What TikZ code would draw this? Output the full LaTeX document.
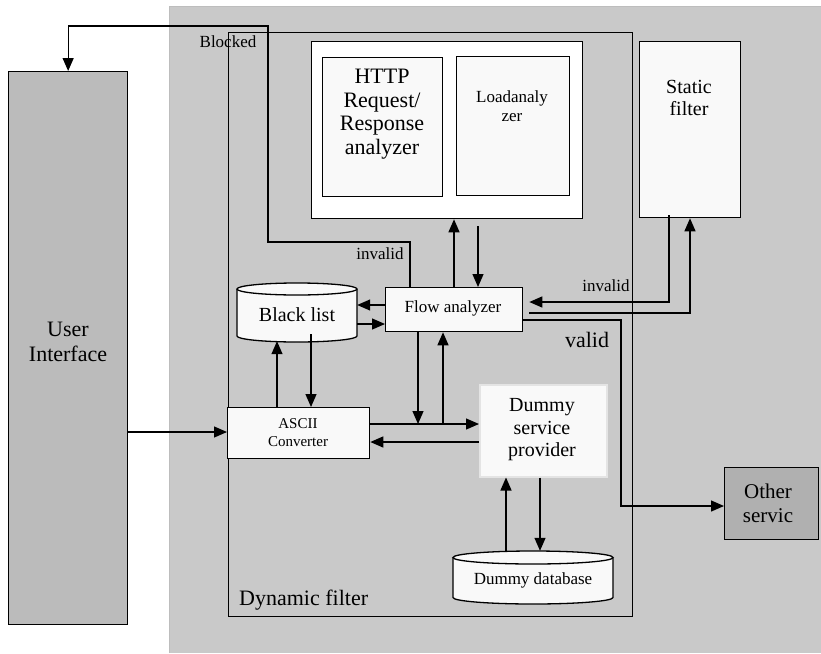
\documentclass[tikz,border=0pt]{standalone}
\usepackage{fontspec}
\setmainfont{Liberation Serif}
\usetikzlibrary{arrows.meta,calc}
\definecolor{bggray}{HTML}{C9C9C9}
\definecolor{bgedge}{HTML}{BDBDBD}
\definecolor{uifill}{HTML}{BBBBBB}
\definecolor{osfill}{HTML}{B0B0B0}
\definecolor{boxfill}{HTML}{F9F9F9}
\definecolor{dspline}{HTML}{E4E4E4}
\tikzset{
  ln/.style={line width=1.3pt},
  arr/.style={line width=1.3pt,-{Triangle[length=13pt,width=11pt]}},
  boxn/.style={draw,line width=1.3pt,fill=boxfill,inner sep=0pt,anchor=north west},
  area/.style={inner sep=0pt,anchor=north west},
  huge/.style={font=\fontsize{22}{24.5}\selectfont,align=center,inner sep=0pt},
  big/.style={font=\fontsize{20}{22.5}\selectfont,align=center,inner sep=0pt},
  mid/.style={font=\fontsize{17}{19.5}\selectfont,align=center,inner sep=0pt},
  sml/.style={font=\fontsize{15}{18}\selectfont,align=center,inner sep=0pt},
}
\begin{document}
\begin{tikzpicture}[x=1pt,y=-1pt]
\useasboundingbox (0,0) rectangle (821,653);
% grey background
\fill[bggray] (169,6) rectangle (821,653);
\draw[bgedge,line width=1pt] (169.5,653) -- (169.5,6.5) -- (821,6.5);
% user interface
\node[boxn,fill=uifill,minimum width=119pt,minimum height=553pt] (ui) at (8,71) {};
\node[huge,font=\fontsize{22}{25.5}\selectfont] (uit) at (68,342) {User\\Interface};
% dynamic filter frame
\node[draw,line width=1.3pt,area,minimum width=404pt,minimum height=584pt] (dyn) at (228,32) {};
\node[huge,anchor=west] (dynt) at (239,600) {Dynamic filter};
% analyzers container
\node[draw,line width=1.3pt,fill=white,area,minimum width=271pt,minimum height=177pt] (lbox) at (311,41) {};
\node[boxn,minimum width=120pt,minimum height=139pt] (http) at (322,57) {};
\node[huge,font=\fontsize{22}{23.5}\selectfont] (httpt) at (382,114) {HTTP\\Request/\\Response\\analyzer};
\node[boxn,minimum width=113pt,minimum height=139pt] (load) at (456,56) {};
\node[mid] (loadt) at (512,106) {Loadanaly\\zer};
% static filter
\node[boxn,minimum width=101pt,minimum height=176pt] (sf) at (639,41) {};
\node[big] (sft) at (689,98) {Static\\filter};
% flow analyzer
\node[boxn,minimum width=137pt,minimum height=44pt] (fa) at (385,287) {};
\node[mid] (fat) at (453,308) {Flow analyzer};
% black list cylinder
\fill[boxfill] (237,289) -- (237,336) arc[start angle=180,end angle=360,x radius=60pt,y radius=6pt] -- (357,289) arc[start angle=0,end angle=180,x radius=60pt,y radius=6pt] -- cycle;
\draw[ln] (237,289) -- (237,336) arc[start angle=180,end angle=360,x radius=60pt,y radius=6pt] -- (357,289);
\draw[ln] (297,289) ellipse[x radius=60pt,y radius=6pt];
\node[minimum width=120pt,minimum height=59pt,inner sep=0pt] (bl) at (297,312.5) {};
\node[big] (blt) at (297,315) {Black list};
% ASCII converter
\node[boxn,minimum width=142pt,minimum height=51pt] (ac) at (227,407) {};
\node[sml] (act) at (298,433) {ASCII\\Converter};
% dummy service provider
\node[draw=dspline,line width=1.5pt,fill=boxfill,area,minimum width=127pt,minimum height=92pt] (dsp) at (479,384) {};
\node[big] (dspt) at (542,430) {Dummy\\service\\provider};
% dummy database cylinder
\fill[boxfill] (453,557.5) -- (453,597.5) arc[start angle=180,end angle=360,x radius=80pt,y radius=6.5pt] -- (613,557.5) arc[start angle=0,end angle=180,x radius=80pt,y radius=6.5pt] -- cycle;
\draw[ln] (453,557.5) -- (453,597.5) arc[start angle=180,end angle=360,x radius=80pt,y radius=6.5pt] -- (613,557.5);
\draw[ln] (533,557.5) ellipse[x radius=80pt,y radius=6.5pt];
\node[minimum width=160pt,minimum height=53pt,inner sep=0pt] (db) at (533,577.5) {};
\node[mid] (dbt) at (533,580) {Dummy database};
% other services
\node[boxn,fill=osfill,minimum width=94pt,minimum height=72pt] (os) at (724,467) {};
\node[big,font=\fontsize{21}{24}\selectfont] (ost) at (768,503) {Other\\servic};
% connectors
\draw[arr] (fa.north -| 410,0) |- (268,242) |- (ui.north |- 0,26) -- (ui.north);
\node[mid] (blocked) at (228,42) {Blocked};
\node[mid] (inv1) at (380,254) {invalid};
\draw[arr] (fa.west |- 0,305) -- (bl.east |- 0,305);
\draw[arr] (bl.east |- 0,324) -- (fa.west |- 0,324);
\draw[arr] (fa.north -| 454,0) -- (lbox.south -| 454,0);
\draw[arr] ($(lbox.south -| 478,0)+(0,7)$) -- (fa.north -| 478,0);
\coordinate (jA) at (418,424);
\coordinate (jB) at (443,424);
\draw[arr] (fa.south -| 418,0) -- (jA);
\draw[arr] (jB) -- (fa.south -| 443,0);
\draw[arr] (ac.east |- 0,424) -- (dsp.west |- 0,424);
\draw[arr] (dsp.west |- 0,442) -- (ac.east |- 0,442);
\draw[arr] (ui.east |- 0,432) -- (ac.west |- 0,432);
\draw[arr] (ac.north -| 277,0) -- ($(bl.south -| 277,0)+(0,-1)$);
\draw[arr] ($(bl.south -| 311,0)+(0,-8)$) -- (ac.north -| 311,0);
\draw[arr] ($(sf.south -| 669,0)+(0,-3)$) |- ($(fa.east |- 0,302)+(6,0)$);
\node[mid] (inv2) at (606,286) {invalid};
\draw[arr] ($(fa.east |- 0,313)+(6,0)$) -| (sf.south -| 690,0);
\draw[arr] (fa.east |- 0,320) -| (621,506) -- (os.west |- 0,506);
\node[huge] (valid) at (587,340) {valid};
\draw[arr] (db.north -| 506,0) -- (dsp.south -| 506,0);
\draw[arr] (dsp.south -| 540,0) -- (db.north -| 540,0);
\end{tikzpicture}
\end{document}
